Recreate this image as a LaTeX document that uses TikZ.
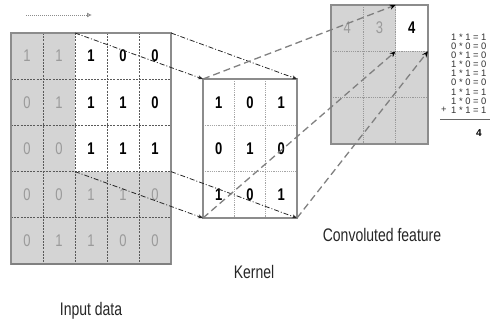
\documentclass[tikz,border=0pt]{standalone}
\usepackage{fontspec}
\setmainfont{Liberation Sans}
\usepackage{graphicx}
\usetikzlibrary{arrows.meta}
\newcommand\talltxt[1]{\scalebox{1}[1.3]{#1}}
\definecolor{cellgray}{HTML}{D4D4D4}
\definecolor{txtgray}{HTML}{9A9A9A}
\definecolor{linegray}{HTML}{808080}
\tikzset{
  dg/.style={font=\fontsize{13}{13}\selectfont\bfseries, text=black, inner sep=0pt},
  dgl/.style={font=\fontsize{13}{13}\selectfont, text=txtgray, inner sep=0pt},
  gridln/.style={draw=black!65, line width=0.8pt, dash pattern=on 2pt off 1.2pt},
  kgridln/.style={draw=black!35, line width=0.7pt, dash pattern=on 1.2pt off 1pt},
  border/.style={draw=black!45, line width=1.4pt},
  ddarrow/.style={draw=black!85, line width=0.8pt, dash pattern=on 5pt off 2pt on 1pt off 2pt, -{Stealth[length=5pt,width=4pt]}},
  dsarrow/.style={draw=linegray, line width=1.3pt, dash pattern=on 7pt off 4pt, -{Stealth[length=6pt,width=5pt,black]}},
  lbl/.style={font=\fontsize{14}{14}\selectfont, text=black!85, inner sep=0pt},
  eq/.style={font=\fontsize{9.4}{9.4}\selectfont, text=black!80, inner sep=0pt, anchor=west}
}
\begin{document}
\begin{tikzpicture}[x=1pt,y=-1pt]
\useasboundingbox (0,0) rectangle (490,327);

% small arrow top-left
\coordinate (sa) at (26,15);
\coordinate (sb) at (92,15);
\draw[draw=black!45, line width=0.9pt, dash pattern=on 1pt off 1pt, -{Latex[open,length=5pt,width=5pt]}] (sa) -- (sb);

% ---------------- Input data ----------------
\fill[cellgray] (11,33) rectangle (171,264);
\fill[white] (75,33) rectangle (171,171.6);
\foreach \x in {43,75,107,139} \draw[gridln] (\x,33) -- (\x,264);
\foreach \y in {79.2,125.4,171.6,217.8} \draw[gridln] (11,\y) -- (171,\y);
\draw[border] (11,33) rectangle (171,264);
\draw[draw=black!50, line width=2pt] (11,264) -- (171,264);

\coordinate (inTL) at (75,33);
\coordinate (inTR) at (171,33);
\coordinate (inBL) at (75,171.6);
\coordinate (inBR) at (171,171.6);

% digits rows
\foreach \v [count=\i from 0] in {1,1} \node[dgl] (i0\i) at (27+32*\i,56) {\talltxt{\v}};
\foreach \v [count=\i from 2] in {1,0,0} \node[dg] (i0\i) at (27+32*\i,56) {\talltxt{\v}};
\foreach \v [count=\i from 0] in {0,1} \node[dgl] (i1\i) at (27+32*\i,102.3) {\talltxt{\v}};
\foreach \v [count=\i from 2] in {1,1,0} \node[dg] (i1\i) at (27+32*\i,102.3) {\talltxt{\v}};
\foreach \v [count=\i from 0] in {0,0} \node[dgl] (i2\i) at (27+32*\i,148.5) {\talltxt{\v}};
\foreach \v [count=\i from 2] in {1,1,1} \node[dg] (i2\i) at (27+32*\i,148.5) {\talltxt{\v}};
\foreach \v [count=\i from 0] in {0,0,1,1,0} \node[dgl] (i3\i) at (27+32*\i,194.7) {\talltxt{\v}};
\foreach \v [count=\i from 0] in {0,1,1,0,0} \node[dgl] (i4\i) at (27+32*\i,240.9) {\talltxt{\v}};

\node[lbl] (inlabel) at (91,311) {\talltxt{Input data}};

% ---------------- Kernel ----------------
\fill[white] (203,79) rectangle (297,218);
\foreach \x in {234.3,265.7} \draw[kgridln] (\x,79) -- (\x,218);
\foreach \y in {125.3,171.7} \draw[kgridln] (203,\y) -- (297,\y);
\draw[border] (203,79) rectangle (297,218);
\coordinate (kTL) at (203,79);
\coordinate (kTR) at (297,79);
\coordinate (kBL) at (203,218);
\coordinate (kBR) at (297,218);
\foreach \r/\a/\b/\c [count=\j from 0] in {0/1/0/1,1/0/1/0,2/1/0/1}{
  \node[dg] (k\r0) at (218.7,102.2+46.33*\r) {\talltxt{\a}};
  \node[dg] (k\r1) at (250,102.2+46.33*\r) {\talltxt{\b}};
  \node[dg] (k\r2) at (281.3,102.2+46.33*\r) {\talltxt{\c}};
}
\node[lbl] (klabel) at (254,272) {\talltxt{Kernel}};

% ---------------- Convoluted feature ----------------
\fill[cellgray] (331,5) rectangle (428,144);
\fill[white] (395.7,5) rectangle (428,51.3);
\foreach \x in {363.3,395.7} \draw[kgridln,draw=black!40] (\x,5) -- (\x,144);
\foreach \y in {51.3,97.7} \draw[kgridln,draw=black!40] (331,\y) -- (428,\y);
\draw[border] (331,5) rectangle (428,144);
\coordinate (cTL) at (395.7,5);
\coordinate (cBL) at (395.7,51.3);
\coordinate (cBR) at (428,51.3);
\node[dgl] (c00) at (347.2,28) {\talltxt{4}};
\node[dgl] (c01) at (379.5,28) {\talltxt{3}};
\node[dg] (c02) at (411.8,28) {\talltxt{4}};
\node[lbl] (clabel) at (382,235) {\talltxt{Convoluted feature}};

% ---------------- connectors ----------------
\draw[ddarrow] (inTL) -- (kTL);
\draw[ddarrow] (inTR) -- (kTR);
\draw[ddarrow] (inBL) -- (kBL);
\draw[ddarrow] (inBR) -- (kBR);
\draw[dsarrow] (kTL) -- (cTL);
\draw[dsarrow] (kBL) -- (cBL);
\draw[dsarrow] (kBR) -- (cBR);

% ---------------- equations ----------------
\foreach \t [count=\i from 0] in {1 * 1 = 1, 0 * 0 = 0, 0 * 1 = 0, 1 * 0 = 0, 1 * 1 = 1, 0 * 0 = 0, 1 * 1 = 1, 1 * 0 = 0, 1 * 1 = 1}
  \node[eq] (e\i) at (451,37+9.15*\i) {\t};
\node[eq] (eplus) at (441,110) {+};
\coordinate (ruleA) at (440,119);
\coordinate (ruleB) at (492,119);
\draw[draw=black!60, line width=1pt] (ruleA) -- (ruleB);
\node[eq, font=\fontsize{10}{10}\selectfont\bfseries, text=black] (esum) at (476,133) {4};
\end{tikzpicture}
\end{document}
